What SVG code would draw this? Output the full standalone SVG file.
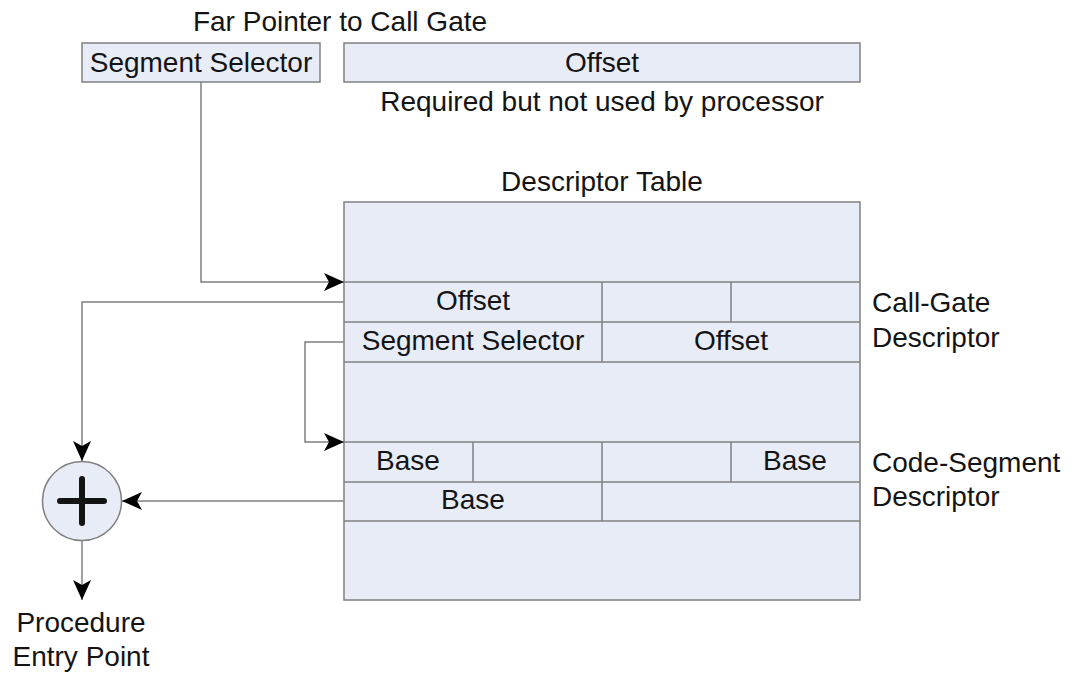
<svg xmlns="http://www.w3.org/2000/svg" width="1080" height="678" viewBox="0 0 1080 678">
<defs>
<style>
.box{fill:#e8ecf7;stroke:#808080;stroke-width:1.5}
.ln{fill:none;stroke:#808080;stroke-width:1.5}
.t{font-family:"Liberation Sans",Arial,sans-serif;font-size:28px;fill:#141414}
.m{text-anchor:middle}
</style>
<marker id="ah" viewBox="0 0 20 18" refX="20" refY="9" markerWidth="20" markerHeight="18" markerUnits="userSpaceOnUse" orient="auto">
<path d="M0,0 L20,9 L0,18 L5,9 Z" fill="#000"/>
</marker>
</defs>
<rect width="1080" height="678" fill="#fff"/>
<text class="t m" x="340" y="31">Far Pointer to Call Gate</text>
<g id="seg-selector">
<rect class="box" x="82" y="43" width="238" height="39"/>
<text class="t m" x="201" y="72">Segment Selector</text>
</g>
<g id="offset-ptr">
<rect class="box" x="344" y="43" width="516" height="39"/>
<text class="t m" x="602" y="72">Offset</text>
</g>
<text class="t m" x="602" y="111">Required but not used by processor</text>
<text class="t m" x="602" y="191">Descriptor Table</text>
<g id="descriptor-table">
<rect class="box" x="344" y="202" width="516" height="398"/>
<line class="ln" x1="344" y1="282" x2="860" y2="282"/>
<line class="ln" x1="344" y1="322" x2="860" y2="322"/>
<line class="ln" x1="344" y1="362" x2="860" y2="362"/>
<line class="ln" x1="602" y1="282" x2="602" y2="362"/>
<line class="ln" x1="731" y1="282" x2="731" y2="322"/>
<line class="ln" x1="344" y1="442" x2="860" y2="442"/>
<line class="ln" x1="344" y1="482" x2="860" y2="482"/>
<line class="ln" x1="344" y1="521" x2="860" y2="521"/>
<line class="ln" x1="473" y1="442" x2="473" y2="482"/>
<line class="ln" x1="602" y1="442" x2="602" y2="521"/>
<line class="ln" x1="731" y1="442" x2="731" y2="482"/>
<text class="t m" x="473" y="310">Offset</text>
<text class="t m" x="473" y="350">Segment Selector</text>
<text class="t m" x="731" y="350">Offset</text>
<text class="t m" x="408" y="470">Base</text>
<text class="t m" x="795" y="470">Base</text>
<text class="t m" x="473" y="509">Base</text>
</g>
<g id="call-gate-label">
<text class="t" x="872" y="312">Call-Gate</text>
<text class="t" x="872" y="347">Descriptor</text>
</g>
<g id="code-seg-label">
<text class="t" x="872" y="472">Code-Segment</text>
<text class="t" x="872" y="506">Descriptor</text>
</g>
<g id="adder">
<circle cx="82" cy="501" r="39.5" fill="#e8ecf7" stroke="#808080" stroke-width="1.5"/>
<path d="M82,479 V523 M60,501 H104" stroke="#141414" stroke-width="6" stroke-linecap="round"/>
</g>
<g id="proc-label">
<text class="t m" x="81" y="632">Procedure</text>
<text class="t m" x="81" y="666">Entry Point</text>
</g>
<g id="connectors">
<path class="ln" d="M201,82 V282 H344" marker-end="url(#ah)"/>
<path class="ln" d="M344,302 H82 V461" marker-end="url(#ah)"/>
<path class="ln" d="M344,342 H305 V442 H344" marker-end="url(#ah)"/>
<path class="ln" d="M344,501 H122" marker-end="url(#ah)"/>
<path class="ln" d="M82,541 V600" marker-end="url(#ah)"/>
</g>
</svg>
